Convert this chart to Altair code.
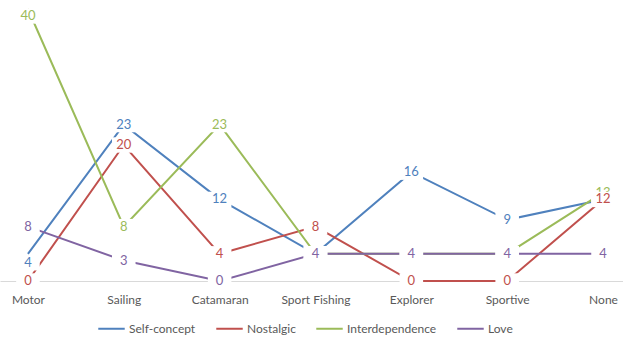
import altair as alt
import pandas as pd

categories = ["Motor", "Sailing", "Catamaran", "Sport Fishing", "Explorer", "Sportive", "None"]
series_names = ["Self-concept", "Nostalgic", "Interdependence", "Love"]
self_concept = [4, 23, 12, 4, 16, 9, 12]
nostalgic = [0, 20, 4, 8, 0, 0, 12]
interdependence = [40, 8, 23, 4, 4, 4, 13]
love = [8, 3, 0, 4, 4, 4, 4]
colors = ["#4F81BD", "#C0504D", "#9BBB59", "#8064A2"]
label_order = ["Self-concept", "Interdependence", "Nostalgic", "Love"]

rows = []
for name, vals in zip(series_names, [self_concept, nostalgic, interdependence, love]):
    for c, v in zip(categories, vals):
        rows.append({"category": c, "series": name, "value": v})
df = pd.DataFrame(rows)

FONT = "Lato"

x = alt.X(
    "category:N",
    sort=categories,
    scale=alt.Scale(type="point", padding=0.25, align=0.583),
    axis=alt.Axis(
        title=None, domainColor="#d9d9d9", domainWidth=1, ticks=False, labelAngle=0,
        labelColor="#595959", labelFontSize=12, labelFont=FONT, labelPadding=13,
        grid=False,
    ),
)
y = alt.Y("value:Q", scale=alt.Scale(domain=[0, 40], nice=False, zero=True), axis=None)
color = alt.Color(
    "series:N",
    scale=alt.Scale(domain=series_names, range=colors),
    legend=alt.Legend(
        orient="none", legendX=97, legendY=305, direction="horizontal", title=None,
        symbolType="stroke", symbolStrokeWidth=2, symbolSize=700, labelFont=FONT,
        labelFontSize=12, labelColor="#595959", columnPadding=16, labelOffset=3,
    ),
)

box_shape = "M-1.15,-0.75H1.15V0.75H-1.15Z"

# labels that Excel nudged off their point (top value kept inside, Motor 4 placed below)
nudge = {"expr": "datum.value == 40 ? 7 : (datum.series == 'Self-concept' && datum.category == 'Motor') ? 9 : 0"}

base = alt.Chart(df)
layers = []
for name in series_names:
    layers.append(
        base.transform_filter(alt.datum.series == name)
        .mark_line(strokeWidth=2)
        .encode(x=x, y=y, color=color)
    )
for name in label_order:
    sub = base.transform_filter(alt.datum.series == name)
    layers.append(
        sub.mark_point(shape=box_shape, size=420, color="white", opacity=1, filled=True,
                       strokeWidth=0, yOffset=nudge)
        .encode(x=x, y=y)
    )
    layers.append(
        sub.mark_text(fontSize=13, font=FONT, baseline="middle", align="center", yOffset=nudge)
        .encode(x=x, y=y, text="value:Q",
                color=alt.Color("series:N", scale=alt.Scale(domain=series_names, range=colors), legend=None))
    )

chart = (
    alt.layer(*layers)
    .properties(
        width=623, height=272,
        autosize=alt.AutoSizeParams(type="none"),
        padding={"left": 0, "top": 9, "right": 0, "bottom": 57},
    )
    .configure_view(stroke=None)
)

chart.save("out.html", embed_options={"renderer": "svg", "actions": False})
